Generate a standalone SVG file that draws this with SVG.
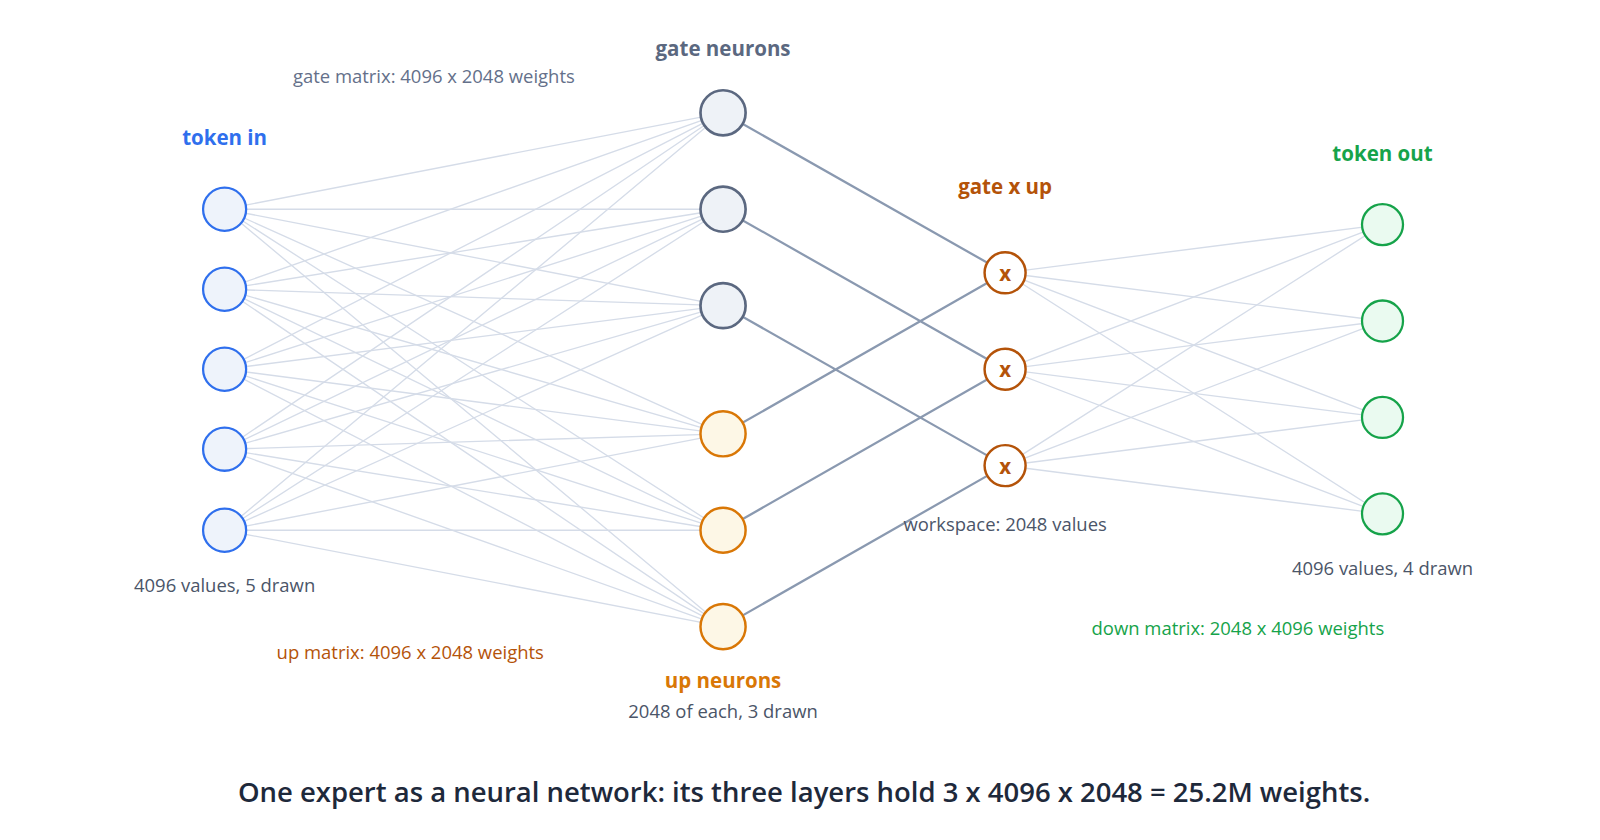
<svg xmlns="http://www.w3.org/2000/svg" width="1600" height="840" viewBox="0 0 1600 840">
<style>
text{font-family:"Open Sans","Noto Sans","Liberation Sans",sans-serif;text-anchor:middle}
.w{stroke:#d5dce8;stroke-width:1.3;fill:none}
.d{stroke:#8a99b0;stroke-width:2.2;fill:none}
.in{fill:#eef3fb;stroke:#2f6fed;stroke-width:2.2}
.g{fill:#eef2f7;stroke:#5b6880;stroke-width:2.6}
.u{fill:#fdf7e6;stroke:#d97706;stroke-width:2.4}
.m{fill:#fff;stroke:#b45309;stroke-width:2.4}
.o{fill:#eafaf0;stroke:#16a34a;stroke-width:2.2}
.s{font-size:18px;fill:#4b5568}
.h{font-size:20px;font-weight:bold}
</style>
<rect width="1600" height="840" fill="#fff"/>
<g transform="scale(1.0256)">
<g id="connectors">
<g class="w">
<path d="M219 204L705 110M219 204L705 204M219 204L705 298M219 204L705 423M219 204L705 517M219 204L705 611"/>
<path d="M219 282L705 110M219 282L705 204M219 282L705 298M219 282L705 423M219 282L705 517M219 282L705 611"/>
<path d="M219 360L705 110M219 360L705 204M219 360L705 298M219 360L705 423M219 360L705 517M219 360L705 611"/>
<path d="M219 438L705 110M219 438L705 204M219 438L705 298M219 438L705 423M219 438L705 517M219 438L705 611"/>
<path d="M219 517L705 110M219 517L705 204M219 517L705 298M219 517L705 423M219 517L705 517M219 517L705 611"/>
<path d="M980 266L1348 219M980 266L1348 313M980 266L1348 407M980 266L1348 501"/>
<path d="M980 360L1348 219M980 360L1348 313M980 360L1348 407M980 360L1348 501"/>
<path d="M980 454L1348 219M980 454L1348 313M980 454L1348 407M980 454L1348 501"/>
</g>
<g class="d">
<path d="M705 110L980 266M705 204L980 360M705 298L980 454M705 423L980 266M705 517L980 360M705 611L980 454"/>
</g>
</g>
<g id="in1"><circle class="in" cx="219" cy="204" r="21"/></g>
<g id="in2"><circle class="in" cx="219" cy="282" r="21"/></g>
<g id="in3"><circle class="in" cx="219" cy="360" r="21"/></g>
<g id="in4"><circle class="in" cx="219" cy="438" r="21"/></g>
<g id="in5"><circle class="in" cx="219" cy="517" r="21"/></g>
<g id="gate1"><circle class="g" cx="705" cy="110" r="22"/></g>
<g id="gate2"><circle class="g" cx="705" cy="204" r="22"/></g>
<g id="gate3"><circle class="g" cx="705" cy="298" r="22"/></g>
<g id="up1"><circle class="u" cx="705" cy="423" r="22"/></g>
<g id="up2"><circle class="u" cx="705" cy="517" r="22"/></g>
<g id="up3"><circle class="u" cx="705" cy="611" r="22"/></g>
<g id="mul1"><circle class="m" cx="980" cy="266" r="20"/><text x="980" y="274" class="h" fill="#b45309">x</text></g>
<g id="mul2"><circle class="m" cx="980" cy="360" r="20"/><text x="980" y="368" class="h" fill="#b45309">x</text></g>
<g id="mul3"><circle class="m" cx="980" cy="454" r="20"/><text x="980" y="462" class="h" fill="#b45309">x</text></g>
<g id="out1"><circle class="o" cx="1348" cy="219" r="20"/></g>
<g id="out2"><circle class="o" cx="1348" cy="313" r="20"/></g>
<g id="out3"><circle class="o" cx="1348" cy="407" r="20"/></g>
<g id="out4"><circle class="o" cx="1348" cy="501" r="20"/></g>
<g id="labels">
<text x="219" y="141" class="h" fill="#2f6fed">token in</text>
<text x="705" y="55" class="h" fill="#5b6880">gate neurons</text>
<text x="423" y="81" class="s" style="fill:#64708a">gate matrix: 4096 x 2048 weights</text>
<text x="980" y="189" class="h" fill="#b45309">gate x up</text>
<text x="1348" y="157" class="h" fill="#16a34a">token out</text>
<text x="219" y="577" class="s">4096 values, 5 drawn</text>
<text x="400" y="643" class="s" style="fill:#b45309">up matrix: 4096 x 2048 weights</text>
<text x="705" y="671" class="h" fill="#d97706">up neurons</text>
<text x="705" y="700" class="s">2048 of each, 3 drawn</text>
<text x="980" y="518" class="s">workspace: 2048 values</text>
<text x="1348" y="561" class="s">4096 values, 4 drawn</text>
<text x="1207" y="619" class="s" style="fill:#16a34a">down matrix: 2048 x 4096 weights</text>
<text x="784" y="782" font-size="26.8" font-weight="600" fill="#1e293b">One expert as a neural network: its three layers hold 3 x 4096 x 2048 = 25.2M weights.</text>
</g>
</g>
</svg>
